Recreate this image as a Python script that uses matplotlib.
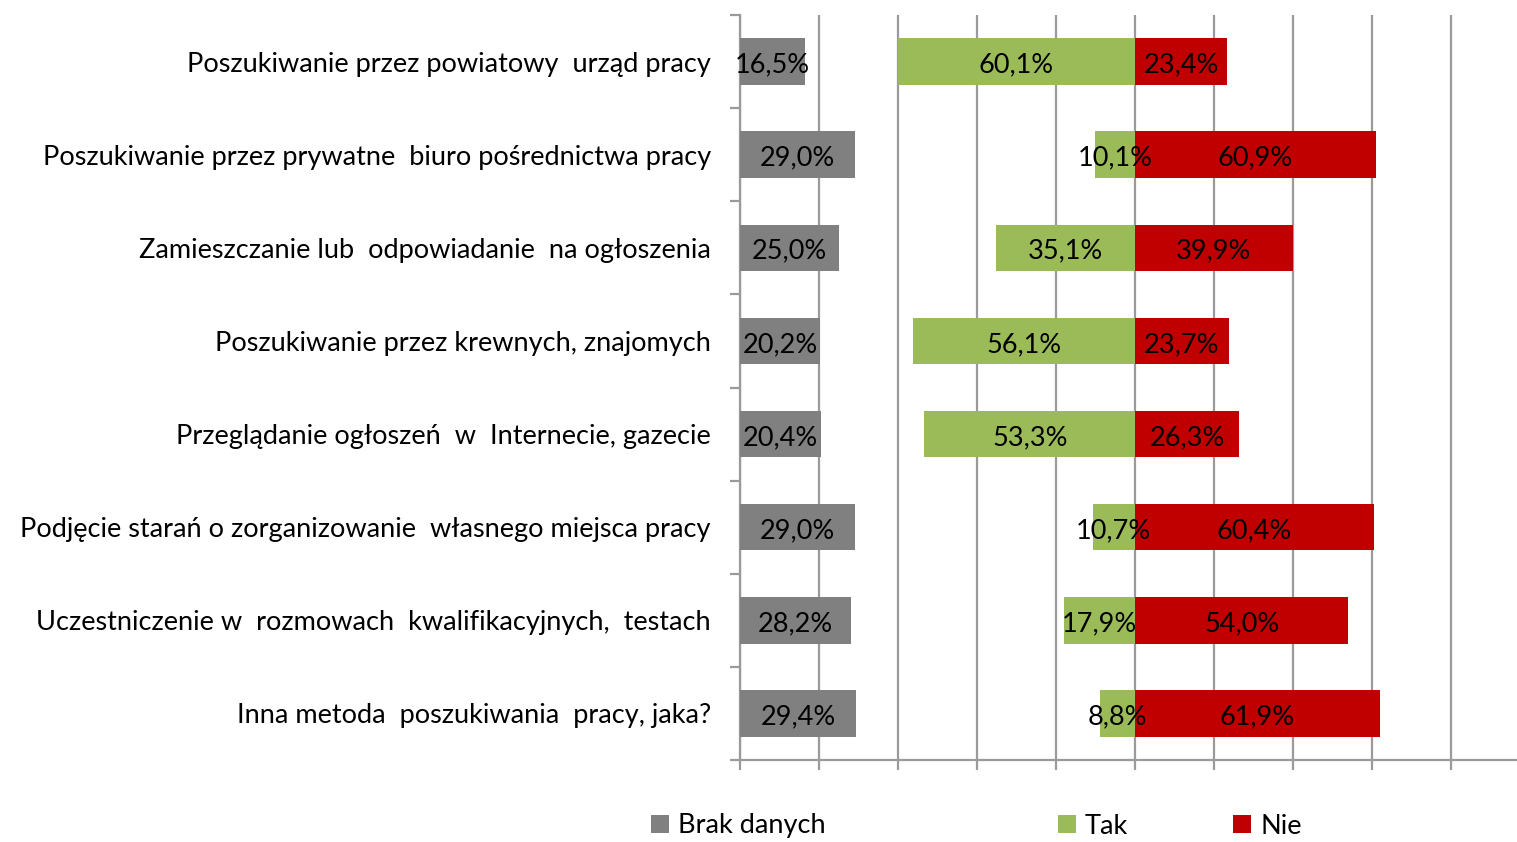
import numpy as np
import matplotlib.pyplot as plt
from matplotlib.ticker import FixedLocator

plt.rcParams['font.family'] = ['Lato', 'DejaVu Sans']

categories = [
    'Poszukiwanie przez powiatowy  urząd pracy',
    'Poszukiwanie przez prywatne  biuro pośrednictwa pracy',
    'Zamieszczanie lub  odpowiadanie  na ogłoszenia',
    'Poszukiwanie przez krewnych, znajomych',
    'Przeglądanie ogłoszeń  w  Internecie, gazecie',
    'Podjęcie starań o zorganizowanie  własnego miejsca pracy',
    'Uczestniczenie w  rozmowach  kwalifikacyjnych,  testach',
    'Inna metoda  poszukiwania  pracy, jaka?',
]
brak = [16.5, 29.0, 25.0, 20.2, 20.4, 29.0, 28.2, 29.4]
tak = [60.1, 10.1, 35.1, 56.1, 53.3, 10.7, 17.9, 8.8]
nie = [23.4, 60.9, 39.9, 23.7, 26.3, 60.4, 54.0, 61.9]

grey = '#808080'
green = '#9BBB59'
red = '#C00000'
gridc = '#9a9a9a'

fig = plt.figure(figsize=(15.17, 8.42), dpi=100)
ax = fig.add_axes([740 / 1517, 1 - 760 / 842, 790 / 1517, 745 / 842])

y = np.arange(len(categories))
h = 0.5
brak_bars = ax.barh(y, brak, left=-100, height=h, color=grey, zorder=3, label='Brak danych')
tak_bars = ax.barh(y, [-v for v in tak], height=h, color=green, zorder=3, label='Tak')
nie_bars = ax.barh(y, nie, height=h, color=red, zorder=3, label='Nie')

fmt = lambda v: f'{abs(v):.1f}%'.replace('.', ',')
for bars in (brak_bars, tak_bars, nie_bars):
    labels = ax.bar_label(bars, labels=[fmt(b.get_width()) for b in bars], label_type='center',
                          fontsize=19.5, color='black', zorder=4)
    for t in labels:
        t.xyann = (0, -2.5)

ax.set_xlim(-100, 100)
ax.set_ylim(len(categories) - 0.5, -0.5)
ax.set_xticks(np.arange(-100, 101, 20))
ax.set_xticklabels([])
ax.xaxis.grid(True, color=gridc, linewidth=1.6, zorder=0)

ax.yaxis.set_major_locator(FixedLocator(np.arange(-0.5, len(categories), 1)))
ax.set_yticklabels([])
ax.yaxis.set_minor_locator(FixedLocator(y))
ax.set_yticklabels(categories, minor=True)
ax.tick_params(axis='y', which='minor', length=0, pad=21, labelsize=19.5)
ax.tick_params(axis='y', which='major', length=7, width=1.6, color=gridc)
ax.tick_params(axis='x', length=7, width=1.6, color=gridc)

for side in ('top', 'right'):
    ax.spines[side].set_visible(False)
for side in ('left', 'bottom'):
    ax.spines[side].set_color(gridc)
    ax.spines[side].set_linewidth(1.6)

for bars, name, xpos in ((brak_bars, 'Brak danych', 651 / 1517),
                         (tak_bars, 'Tak', 1058 / 1517),
                         (nie_bars, 'Nie', 1233 / 1517)):
    fig.legend(handles=[bars], labels=[name], loc='center left',
               bbox_to_anchor=(xpos, 1 - 826 / 842), frameon=False, fontsize=19.5,
               handlelength=0.65, handleheight=0.65, handletextpad=0.35,
               borderpad=0, borderaxespad=0)

fig.savefig('out.png', dpi=100)
